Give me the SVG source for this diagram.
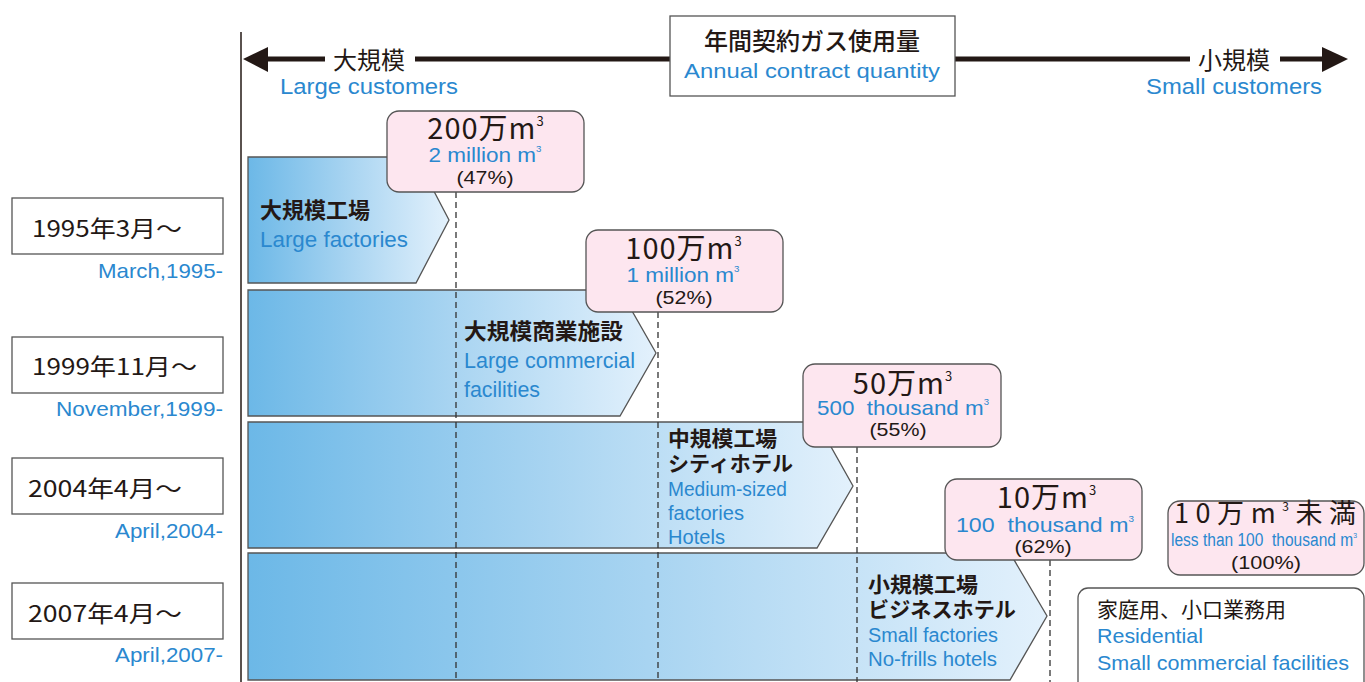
<svg xmlns="http://www.w3.org/2000/svg" width="1365" height="682" viewBox="0 0 1365 682">
<defs>
<linearGradient id="g" x1="0" y1="0" x2="1" y2="0">
<stop offset="0" stop-color="#6cb8e7"/>
<stop offset="0.5" stop-color="#a8d4f1"/>
<stop offset="1" stop-color="#e3f1fc"/>
</linearGradient>
<style>
.jp{font-family:"Noto Sans CJK JP","Liberation Sans",sans-serif;fill:#231815}
.en{font-family:"Liberation Sans","Noto Sans CJK JP",sans-serif;fill:#2a88cf}
.box{fill:#fff;stroke:#555;stroke-width:1.3}
.call{fill:#fde6ef;stroke:#555;stroke-width:1.3}
.bar{fill:url(#g);stroke:#555;stroke-width:1.3}
.dash{stroke:#333;stroke-width:1.3;stroke-dasharray:6 4;fill:none}
.thick{stroke:#231815;stroke-width:5;fill:none}
.head{fill:#231815}
.big{font-family:"Noto Sans CJK JP","Liberation Sans",sans-serif;fill:#231815;font-size:29px;font-weight:400;letter-spacing:1px}
.pct{font-family:"Liberation Sans","Noto Sans CJK JP",sans-serif;fill:#231815;font-size:19px}
</style>
</defs>
<rect width="1365" height="682" fill="#fff"/>

<g id="axis">
<line x1="241" y1="32" x2="241" y2="682" stroke="#231815" stroke-width="1.5"/>
</g>

<g id="bars">
<g id="row1">
<polygon class="bar" points="248,157 416,157 449,220 416,283 248,283"/>
<text class="jp" x="260" y="218" font-size="22" font-weight="bold">大規模工場</text>
<text class="en" x="260" y="247" font-size="22" textLength="148" lengthAdjust="spacingAndGlyphs">Large factories</text>
</g>
<g id="row2">
<polygon class="bar" points="248,290 620,290 656,353 620,416 248,416"/>
<text class="jp" x="464" y="339" font-size="22" font-weight="bold" textLength="159" lengthAdjust="spacingAndGlyphs">大規模商業施設</text>
<text class="en" x="464" y="368" font-size="22" textLength="171" lengthAdjust="spacingAndGlyphs">Large commercial</text>
<text class="en" x="464" y="397" font-size="22" textLength="76" lengthAdjust="spacingAndGlyphs">facilities</text>
</g>
<g id="row3">
<polygon class="bar" points="248,422 817,422 853,486 817,548 248,548"/>
<text class="jp" x="668" y="446" font-size="21" font-weight="bold" textLength="109" lengthAdjust="spacingAndGlyphs">中規模工場</text>
<text class="jp" x="668" y="471" font-size="21" font-weight="bold" textLength="125" lengthAdjust="spacingAndGlyphs">シティホテル</text>
<text class="en" x="668" y="496" font-size="20" textLength="119" lengthAdjust="spacingAndGlyphs">Medium-sized</text>
<text class="en" x="668" y="520" font-size="20" textLength="76" lengthAdjust="spacingAndGlyphs">factories</text>
<text class="en" x="668" y="544" font-size="20" textLength="57" lengthAdjust="spacingAndGlyphs">Hotels</text>
</g>
<g id="row4">
<polygon class="bar" points="248,553 1010,553 1047,616 1010,680 248,680"/>
<text class="jp" x="868" y="592" font-size="21" font-weight="bold" textLength="110" lengthAdjust="spacingAndGlyphs">小規模工場</text>
<text class="jp" x="868" y="617" font-size="21" font-weight="bold" textLength="148" lengthAdjust="spacingAndGlyphs">ビジネスホテル</text>
<text class="en" x="868" y="642" font-size="20" textLength="130" lengthAdjust="spacingAndGlyphs">Small factories</text>
<text class="en" x="868" y="666" font-size="20" textLength="129" lengthAdjust="spacingAndGlyphs">No-frills hotels</text>
</g>
</g>

<g id="connectors">
<line class="dash" x1="456" y1="192" x2="456" y2="682"/>
<line class="dash" x1="658" y1="312" x2="658" y2="682"/>
<line class="dash" x1="857" y1="447" x2="857" y2="682"/>
<line class="dash" x1="1050" y1="560" x2="1050" y2="682"/>
<line class="thick" x1="266" y1="59" x2="325" y2="59"/>
<line class="thick" x1="415" y1="59" x2="670" y2="59"/>
<line class="thick" x1="955" y1="59" x2="1190" y2="59"/>
<line class="thick" x1="1280" y1="59" x2="1324" y2="59"/>
<polygon class="head" points="243,59 268,47 268,72"/>
<polygon class="head" points="1348,59 1322,47 1322,72"/>
</g>

<g id="scale-labels">
<text class="jp" x="333" y="69" font-size="24">大規模</text>
<text class="en" x="280" y="94" font-size="22" textLength="178" lengthAdjust="spacingAndGlyphs">Large customers</text>
<text class="jp" x="1198" y="69" font-size="24">小規模</text>
<text class="en" x="1146" y="94" font-size="22" textLength="176" lengthAdjust="spacingAndGlyphs">Small customers</text>
</g>

<g id="title">
<rect class="box" x="670" y="16" width="285" height="80"/>
<text class="jp" x="812" y="50" font-size="24" font-weight="500" text-anchor="middle">年間契約ガス使用量</text>
<text class="en" x="812" y="78" font-size="21" text-anchor="middle" textLength="256" lengthAdjust="spacingAndGlyphs">Annual contract quantity</text>
</g>

<g id="date1">
<rect class="box" x="12" y="198" width="211" height="56"/>
<text class="jp" x="32" y="237" font-size="23" textLength="150" lengthAdjust="spacingAndGlyphs">1995年3月～</text>
<text class="en" x="223" y="278" font-size="21" text-anchor="end" textLength="125" lengthAdjust="spacingAndGlyphs">March,1995-</text>
</g>
<g id="date2">
<rect class="box" x="12" y="337" width="211" height="56"/>
<text class="jp" x="32" y="375" font-size="23" textLength="165" lengthAdjust="spacingAndGlyphs">1999年11月～</text>
<text class="en" x="223" y="416" font-size="21" text-anchor="end" textLength="167" lengthAdjust="spacingAndGlyphs">November,1999-</text>
</g>
<g id="date3">
<rect class="box" x="12" y="458" width="211" height="56"/>
<text class="jp" x="28" y="497" font-size="23" textLength="154" lengthAdjust="spacingAndGlyphs">2004年4月～</text>
<text class="en" x="223" y="538" font-size="21" text-anchor="end" textLength="108" lengthAdjust="spacingAndGlyphs">April,2004-</text>
</g>
<g id="date4">
<rect class="box" x="12" y="583" width="211" height="56"/>
<text class="jp" x="28" y="622" font-size="23" textLength="154" lengthAdjust="spacingAndGlyphs">2007年4月～</text>
<text class="en" x="223" y="662" font-size="21" text-anchor="end" textLength="108" lengthAdjust="spacingAndGlyphs">April,2007-</text>
</g>

<g id="callout1">
<rect class="call" x="387" y="111" width="197" height="81" rx="12"/>
<text class="big" x="486" y="139" text-anchor="middle">200万m<tspan font-size="13" dy="-13">3</tspan></text>
<text class="en" x="485" y="162" font-size="21" text-anchor="middle" textLength="113" lengthAdjust="spacingAndGlyphs">2 million m<tspan font-size="9" dy="-10">3</tspan></text>
<text class="pct" x="485" y="184" text-anchor="middle" textLength="57" lengthAdjust="spacingAndGlyphs">(47%)</text>
</g>
<g id="callout2">
<rect class="call" x="586" y="230" width="197" height="82" rx="12"/>
<text class="big" x="684" y="259" text-anchor="middle">100万m<tspan font-size="13" dy="-13">3</tspan></text>
<text class="en" x="683" y="282" font-size="21" text-anchor="middle" textLength="113" lengthAdjust="spacingAndGlyphs">1 million m<tspan font-size="9" dy="-10">3</tspan></text>
<text class="pct" x="684" y="304" text-anchor="middle" textLength="57" lengthAdjust="spacingAndGlyphs">(52%)</text>
</g>
<g id="callout3">
<rect class="call" x="803" y="364" width="198" height="83" rx="12"/>
<text class="big" x="903" y="394" text-anchor="middle">50万m<tspan font-size="13" dy="-13">3</tspan></text>
<text class="en" x="903" y="415" font-size="21" text-anchor="middle" textLength="172" lengthAdjust="spacingAndGlyphs">500&#160; thousand m<tspan font-size="9" dy="-10">3</tspan></text>
<text class="pct" x="898" y="436" text-anchor="middle" textLength="57" lengthAdjust="spacingAndGlyphs">(55%)</text>
</g>
<g id="callout4">
<rect class="call" x="945" y="479" width="197" height="81" rx="12"/>
<text class="big" x="1047" y="508" text-anchor="middle">10万m<tspan font-size="13" dy="-13">3</tspan></text>
<text class="en" x="1045" y="532" font-size="21" text-anchor="middle" textLength="178" lengthAdjust="spacingAndGlyphs">100&#160; thousand m<tspan font-size="9" dy="-10">3</tspan></text>
<text class="pct" x="1043" y="553" text-anchor="middle" textLength="57" lengthAdjust="spacingAndGlyphs">(62%)</text>
</g>
<g id="callout5">
<rect class="call" x="1168" y="501" width="196" height="74" rx="12"/>
<text class="jp" x="1265" y="523" font-size="27" text-anchor="middle" textLength="182" lengthAdjust="spacing">10万m<tspan font-size="12" dy="-12">3</tspan><tspan dy="12">未満</tspan></text>
<text class="en" x="1264" y="546" font-size="18" text-anchor="middle" textLength="186" lengthAdjust="spacingAndGlyphs">less than 100&#160; thousand m<tspan font-size="8" dy="-8">3</tspan></text>
<text class="pct" x="1266" y="569" text-anchor="middle" textLength="70" lengthAdjust="spacingAndGlyphs">(100%)</text>
</g>
<g id="residential">
<rect class="box" x="1078" y="588" width="286" height="104" rx="10"/>
<text class="jp" x="1097" y="617" font-size="21">家庭用、小口業務用</text>
<text class="en" x="1097" y="643" font-size="21" textLength="106" lengthAdjust="spacingAndGlyphs">Residential</text>
<text class="en" x="1097" y="670" font-size="21" textLength="252" lengthAdjust="spacingAndGlyphs">Small commercial facilities</text>
</g>
</svg>
